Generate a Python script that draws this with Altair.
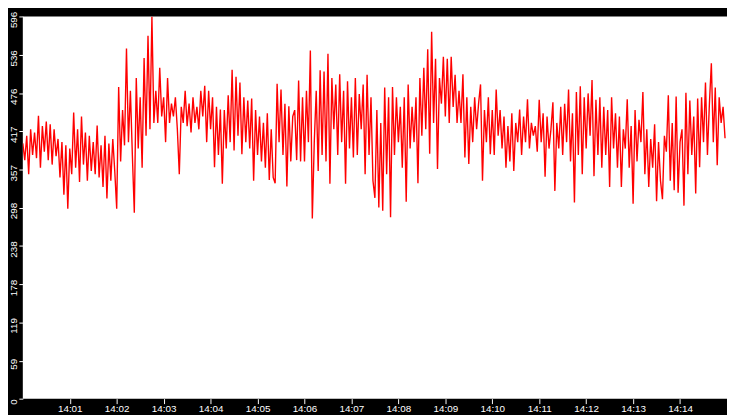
import altair as alt
import pandas as pd

# sampled values, one every 2.5 s from 14:00:00
seg1 = [398, 372, 410, 350, 420, 380, 415, 375,
        441, 360, 425, 385, 432, 372, 428, 365, 420, 378,
        405, 345, 400, 318, 395, 296, 390, 350,
        446, 360, 420, 338, 440, 365, 415, 340, 410, 355,
        400, 350, 426, 345, 395, 330, 410, 312, 398, 340, 405, 355,
        296, 486, 370, 450, 395, 546, 400, 480, 380, 290,
        500, 390, 470, 360, 531, 410, 566, 420, 596, 430,
        480, 430, 516, 440, 470, 400, 500, 430, 460, 440,
        470, 420, 350, 455, 430, 480, 425, 460, 415, 470, 430, 455, 420, 480, 440]
seg2 = [488, 400, 480, 420, 470, 361, 455, 380,
        451, 335, 450, 390, 473, 400, 513, 387,
        502, 410, 493, 381, 470, 400, 465, 390, 468, 340,
        450, 380, 440, 370, 430, 360, 445, 341, 420, 345,
        336, 491, 400, 482, 380, 460, 331, 456, 370, 440,
        450, 372, 496, 370, 470, 370, 480, 400, 543, 281,
        400, 480, 355, 512, 380, 510, 370, 538, 335, 500,
        420, 490, 380, 506, 400, 480, 335, 495, 390, 470,
        376, 500, 380, 475, 420, 490, 350, 505, 380, 470, 340, 313]
seg3 = [450, 298, 430, 293, 485, 350, 470, 283,
        486, 380, 470, 400, 455, 360, 470, 307,
        490, 390, 455, 400, 470, 336, 500, 410, 516,
        420, 545, 382, 572, 430, 530, 358, 500,
        460, 533, 440, 530, 430, 533, 455, 505, 430, 480,
        430, 506, 376, 470, 366, 455, 400, 470, 420, 460,
        490, 340, 450, 400, 470, 381, 450, 380, 482, 410,
        450, 390, 440, 360, 425, 370, 445, 355, 430, 400, 451, 380,
        440, 400, 467, 390, 430, 410, 425, 385, 466, 400, 445, 346, 440, 390, 420]
seg4 = [462, 324, 430, 390, 455, 380, 460, 400,
        482, 370, 445, 306, 478, 380, 487, 350,
        470, 390, 476, 410, 497, 347, 466, 380, 470, 360,
        455, 380, 450, 330, 470, 390, 445, 360, 440, 330,
        420, 390, 467, 360, 425, 304, 450, 370, 435, 400,
        478, 350, 420, 330, 405, 360, 428, 308, 400, 340,
        311, 410, 385, 473, 340, 430, 325, 471, 321, 400,
        420, 301, 477, 350, 465, 380, 440, 320, 468, 361,
        470, 400, 493, 380, 460, 523, 400, 485, 364, 470, 430, 455, 406]

y_ticks = [0, 59, 119, 178, 238, 298, 357, 417, 476, 536, 596]
x_minutes = list(range(1, 15))

values = seg1 + seg2 + seg3 + seg4
times = pd.date_range("2024-01-01 14:00:00", periods=len(values), freq="2500ms")
df = pd.DataFrame({"t": times, "v": values})

font = "Liberation Sans"

chart = alt.Chart(df).mark_line(color="#ff0000", strokeWidth=1.4, interpolate="linear", clip=True).encode(
    x=alt.X("t:T",
            scale=alt.Scale(domain=[alt.DateTime(year=2024, month=1, date=1, hours=14, minutes=0),
                                    alt.DateTime(year=2024, month=1, date=1, hours=14, minutes=15)]),
            axis=alt.Axis(values=[alt.DateTime(year=2024, month=1, date=1, hours=14, minutes=m) for m in x_minutes],
                          format="%H:%M", title=None, grid=False, domain=False,
                          tickColor="white", tickSize=5, labelColor="white",
                          labelFont=font, labelFontSize=10, labelPadding=0,
                          labelFlush=False)),
    y=alt.Y("v:Q",
            scale=alt.Scale(domain=[0, 596], nice=False, zero=True),
            axis=alt.Axis(values=y_ticks, format="d", title=None, grid=False, domain=False,
                          tickColor="white", tickSize=4, labelColor="white",
                          labelFont=font, labelFontSize=10, labelPadding=0,
                          labelAngle=270, labelAlign="center", labelBaseline="bottom",
                          labelOffset=3, labelFlush=True)),
).properties(
    width=713, height=387, background="black", padding=0
).configure_view(fill="white", strokeWidth=0)

chart.save("out.html", embed_options={"renderer": "svg", "actions": False})
